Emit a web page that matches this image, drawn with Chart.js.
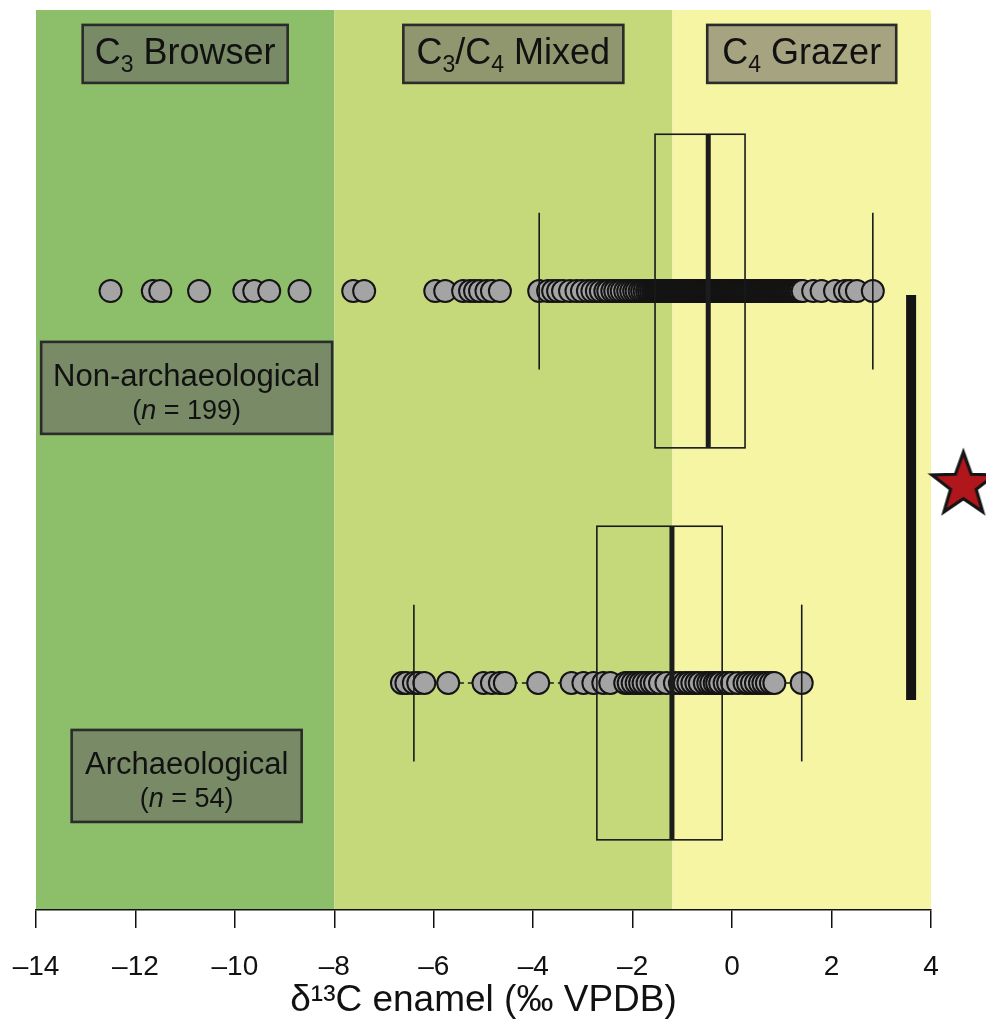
<!DOCTYPE html>
<html>
<head>
<meta charset="utf-8">
<script src="https://cdn.jsdelivr.net/npm/chart.js@4.4.1/dist/chart.umd.min.js"></script>
<style>
  html, body { margin: 0; padding: 0; background: #ffffff; }
  #wrap { width: 986px; height: 1019px; position: relative; }
</style>
</head>
<body>
<div id="wrap"><canvas id="chart" width="986" height="1019"></canvas></div>
<script>
// δ13C enamel values (‰ VPDB), one entry per specimen
const nonArchValues = [
  -12.50, -11.65, -11.50, -10.72, -9.81, -9.61, -9.31, -8.70, -7.62, -7.40,
  -5.97, -5.77, -5.41, -5.27, -5.17, -5.07, -4.94, -4.83, -4.67, -3.88,
  -3.70, -3.60, -3.50, -3.40, -3.26, -3.13,
  -3.02, -2.90, -2.81, -2.72, -2.64, -2.55, -2.49, -2.41, -2.35, -2.28,
  -2.22, -2.15, -2.09, -2.03, -1.97, -1.92, -1.86, -1.81, -1.76, -1.71,
  -1.67, -1.63, -1.59, -1.56,
  -1.53, -1.51, -1.49, -1.46, -1.44, -1.42, -1.40, -1.37, -1.35, -1.33,
  -1.31, -1.29, -1.27, -1.24, -1.22, -1.20, -1.18, -1.15, -1.13, -1.11,
  -1.09, -1.07, -1.04, -1.02, -1.00, -0.98, -0.95, -0.93, -0.91, -0.89,
  -0.86, -0.84, -0.82, -0.80, -0.77, -0.75, -0.73, -0.71, -0.68, -0.66,
  -0.64, -0.62, -0.60, -0.58, -0.56, -0.54, -0.52, -0.50, -0.49, -0.48,
  -0.47, -0.45, -0.44, -0.42, -0.41, -0.39, -0.38, -0.36, -0.35, -0.33,
  -0.32, -0.30, -0.29, -0.27, -0.26, -0.24, -0.23, -0.21, -0.20, -0.18,
  -0.17, -0.15, -0.14, -0.12, -0.11, -0.09, -0.08, -0.06, -0.05, -0.03,
  -0.02, 0.00, 0.01, 0.03, 0.04, 0.06, 0.07, 0.09, 0.10, 0.12,
  0.13, 0.15, 0.16, 0.18, 0.19, 0.21, 0.22, 0.24, 0.25, 0.27,
  0.29, 0.32, 0.34, 0.37, 0.40, 0.42, 0.45, 0.48, 0.50, 0.53,
  0.56, 0.58, 0.61, 0.64, 0.66, 0.69, 0.72, 0.74, 0.77, 0.80,
  0.82, 0.85, 0.88, 0.90, 0.93, 0.96, 0.98, 1.01, 1.04, 1.06,
  1.09, 1.12, 1.14, 1.17, 1.20, 1.23, 1.26, 1.29, 1.32, 1.35,
  1.38, 1.42, 1.63, 1.80, 2.07, 2.27, 2.37, 2.51, 2.83
];
const archValues = [
  -6.64, -6.55, -6.40, -6.31, -6.19, -5.71, -5.00, -4.83, -4.67, -4.57,
  -3.90, -3.23, -2.99, -2.79, -2.59, -2.45, -2.15, -2.08, -2.00, -1.92,
  -1.85, -1.78, -1.70, -1.62, -1.55, -1.45, -1.32, -1.15, -1.05, -0.95,
  -0.88, -0.80, -0.72, -0.65, -0.55, -0.48, -0.42, -0.35, -0.30, -0.24,
  -0.15, -0.08, 0.00, 0.12, 0.25, 0.32, 0.40, 0.48, 0.56, 0.63,
  0.70, 0.78, 0.85, 1.40
];

// Box-plot summaries: [lower whisker, Q1, median, Q3, upper whisker]
const nonArchBox = [-3.88, -1.55, -0.48, 0.26, 2.83];
const archBox = [-6.40, -2.72, -1.21, -0.20, 1.40];

// Group names, sample sizes and their row on the vertical axis
const groupNames = ['Non-archaeological', 'Archaeological'];
const groupCounts = [199, 54];
const groupRows = [2, 1];

// Dietary zones along the δ13C axis ("_d" marks a subscript digit)
const zoneNames = ['C_3 Browser', 'C_3/C_4 Mixed', 'C_4 Grazer'];
const zoneEdges = [-14, -8, -1.2, 4];

// Axis ticks
const xTickValues = [-14, -12, -10, -8, -6, -4, -2, 0, 2, 4];

// Reference range bar (x value, from row, to row) and the starred value
const rangeBarX = 3.6;
const rangeBarRows = [1.99, 0.957];
const starValue = [4.65, 1.513];

// ---- styling / layout ----
const FONT = "'Liberation Sans', Arial, Helvetica, sans-serif";
const zoneColors = ['#8dbe69', '#c5d97a', '#f6f5a4'];
const zoneLabelLayout = [
  { x: -11.0, w: 205 },
  { x: -4.4, w: 220 },
  { x: 1.4, w: 189 }
];
const zoneLabelRow = 2.605;
const groupLabelLayout = [
  { x: -10.97, row: 1.753, w: 291 },
  { x: -10.97, row: 0.763, w: 230 }
];
const labelFill = 'rgba(104,98,100,0.56)';
const labelStroke = '#2b2b2b';

function makeStar(outer, inner) {
  const size = Math.ceil(outer * 2 + 8);
  const c = document.createElement('canvas');
  c.width = size; c.height = size;
  const g = c.getContext('2d');
  const cx = size / 2, cy = size / 2 + (outer - outer * Math.cos(Math.PI / 5)) / 2;
  g.beginPath();
  for (let i = 0; i < 10; i++) {
    const r = i % 2 === 0 ? outer : inner;
    const a = -Math.PI / 2 + i * Math.PI / 5;
    const px = cx + r * Math.cos(a), py = cy + r * Math.sin(a);
    if (i === 0) g.moveTo(px, py); else g.lineTo(px, py);
  }
  g.closePath();
  g.fillStyle = '#b0171c';
  g.fill();
  g.lineJoin = 'miter';
  g.lineWidth = 3.2;
  g.strokeStyle = '#141414';
  g.stroke();
  return c;
}

function parseRuns(text) {
  const runs = [];
  let buf = '';
  for (let i = 0; i < text.length; i++) {
    if (text[i] === '_' && i + 1 < text.length) {
      if (buf) { runs.push({ t: buf, sub: false }); buf = ''; }
      runs.push({ t: text[i + 1], sub: true });
      i++;
    } else buf += text[i];
  }
  if (buf) runs.push({ t: buf, sub: false });
  return runs;
}

function drawRuns(ctx, runs, cx, cy, size) {
  const subSize = Math.round(size * 0.64);
  let total = 0;
  runs.forEach(r => {
    ctx.font = (r.sub ? subSize : size) + 'px ' + FONT;
    r.w = ctx.measureText(r.t).width;
    total += r.w;
  });
  let x = cx - total / 2;
  const base = cy + size * 0.36;
  ctx.textAlign = 'left';
  ctx.textBaseline = 'alphabetic';
  runs.forEach(r => {
    ctx.font = (r.sub ? subSize : size) + 'px ' + FONT;
    ctx.fillText(r.t, x, base + (r.sub ? size * 0.22 : 0));
    x += r.w;
  });
}

function labelBox(ctx, cx, cy, w, h) {
  ctx.fillStyle = labelFill;
  ctx.fillRect(cx - w / 2, cy - h / 2, w, h);
  ctx.lineWidth = 2.6;
  ctx.strokeStyle = labelStroke;
  ctx.strokeRect(cx - w / 2, cy - h / 2, w, h);
}

const boxStats = [nonArchBox, archBox];

const zonesAndBoxes = {
  id: 'zonesAndBoxes',
  beforeDraw(chart) {
    const { ctx, chartArea: a, scales: { x } } = chart;
    ctx.save();
    for (let i = 0; i < zoneColors.length; i++) {
      const x0 = x.getPixelForValue(zoneEdges[i]);
      const x1 = x.getPixelForValue(zoneEdges[i + 1]);
      ctx.fillStyle = zoneColors[i];
      ctx.fillRect(x0, a.top, x1 - x0, a.bottom - a.top);
    }
    ctx.restore();
  },
  beforeDatasetsDraw(chart) {
    const { ctx, scales: { x, y } } = chart;
    ctx.save();
    ctx.strokeStyle = '#1a1a1a';
    ctx.lineWidth = 1.5;
    ctx.setLineDash([5, 4]);
    boxStats.forEach((s, i) => {
      const py = y.getPixelForValue(groupRows[i]);
      ctx.beginPath();
      ctx.moveTo(x.getPixelForValue(s[0]), py);
      ctx.lineTo(x.getPixelForValue(s[1]), py);
      ctx.moveTo(x.getPixelForValue(s[3]), py);
      ctx.lineTo(x.getPixelForValue(s[4]), py);
      ctx.stroke();
    });
    ctx.restore();
  },
  afterDatasetsDraw(chart) {
    const { ctx, scales: { x, y } } = chart;
    ctx.save();
    boxStats.forEach((s, i) => {
      const r = groupRows[i];
      const top = y.getPixelForValue(r + 0.4), bot = y.getPixelForValue(r - 0.4);
      const sTop = y.getPixelForValue(r + 0.2), sBot = y.getPixelForValue(r - 0.2);
      ctx.strokeStyle = '#1a1a1a';
      ctx.lineWidth = 1.6;
      // staples at whisker ends
      [s[0], s[4]].forEach(v => {
        const px = x.getPixelForValue(v);
        ctx.beginPath(); ctx.moveTo(px, sTop); ctx.lineTo(px, sBot); ctx.stroke();
      });
      // box
      const q1 = x.getPixelForValue(s[1]), q3 = x.getPixelForValue(s[3]);
      ctx.strokeRect(q1, top, q3 - q1, bot - top);
      // median
      const m = x.getPixelForValue(s[2]);
      ctx.lineWidth = 5;
      ctx.strokeStyle = '#1c1c1c';
      ctx.beginPath(); ctx.moveTo(m, top); ctx.lineTo(m, bot); ctx.stroke();
    });

    // zone labels
    zoneNames.forEach((name, i) => {
      const L = zoneLabelLayout[i];
      const cx = x.getPixelForValue(L.x), cy = y.getPixelForValue(zoneLabelRow);
      labelBox(ctx, cx, cy, L.w, 58);
      ctx.fillStyle = '#111';
      drawRuns(ctx, parseRuns(name), cx, cy - 3, 36);
    });

    // group labels
    groupNames.forEach((name, i) => {
      const L = groupLabelLayout[i];
      const cx = x.getPixelForValue(L.x), cy = y.getPixelForValue(L.row);
      labelBox(ctx, cx, cy, L.w, 92);
      ctx.fillStyle = '#111';
      ctx.textAlign = 'center';
      ctx.textBaseline = 'alphabetic';
      ctx.font = '31px ' + FONT;
      ctx.fillText(name, cx, cy - 2);
      // second line: (n = N) with italic n
      const partA = '(', partN = 'n', partB = ' = ' + groupCounts[i] + ')';
      ctx.font = '27px ' + FONT;
      const wA = ctx.measureText(partA).width, wB = ctx.measureText(partB).width;
      ctx.font = 'italic 27px ' + FONT;
      const wN = ctx.measureText(partN).width;
      let sx = cx - (wA + wN + wB) / 2;
      const by = cy + 31;
      ctx.textAlign = 'left';
      ctx.font = '27px ' + FONT; ctx.fillText(partA, sx, by); sx += wA;
      ctx.font = 'italic 27px ' + FONT; ctx.fillText(partN, sx, by); sx += wN;
      ctx.font = '27px ' + FONT; ctx.fillText(partB, sx, by);
    });
    ctx.restore();
  }
};

const pointStyleOpts = {
  pointRadius: 11,
  pointBorderWidth: 2,
  pointBackgroundColor: '#a4a4a4',
  pointBorderColor: '#141414',
  showLine: false
};

new Chart(document.getElementById('chart'), {
  type: 'scatter',
  data: {
    datasets: [
      Object.assign({
        label: groupNames[0],
        data: nonArchValues.map(v => ({ x: v, y: groupRows[0] }))
      }, pointStyleOpts),
      Object.assign({
        label: groupNames[1],
        data: archValues.map(v => ({ x: v, y: groupRows[1] }))
      }, pointStyleOpts),
      {
        type: 'line',
        label: 'range',
        data: rangeBarRows.map(r => ({ x: rangeBarX, y: r })),
        borderColor: '#141414',
        borderWidth: 10,
        borderCapStyle: 'butt',
        pointRadius: 0,
        showLine: true,
        fill: false
      },
      {
        label: 'star',
        data: [{ x: starValue[0], y: starValue[1] }],
        pointStyle: makeStar(33, 13.5),
        pointRadius: 34,
        clip: false
      }
    ]
  },
  options: {
    responsive: false,
    animation: false,
    events: [],
    layout: { autoPadding: false, padding: { left: 36, right: 55, top: 10, bottom: 0 } },
    plugins: { legend: { display: false }, tooltip: { enabled: false } },
    scales: {
      x: {
        type: 'linear',
        min: -14,
        max: 4,
        afterBuildTicks: axis => { axis.ticks = xTickValues.map(v => ({ value: v })); },
        afterFit: axis => { axis.paddingLeft = 0; axis.paddingRight = 0; axis.height = 109; },
        ticks: {
          autoSkip: false,
          maxRotation: 0,
          padding: 25,
          color: '#111',
          font: { family: FONT, size: 28, lineHeight: 1.0 },
          callback: v => (v < 0 ? '\u2013' + Math.abs(v) : String(v))
        },
        grid: { drawOnChartArea: false, drawTicks: true, tickLength: 18, color: '#111', lineWidth: 1.5 },
        border: { display: true, color: '#111', width: 1.5 },
        title: {
          display: true,
          text: 'δ¹³C enamel (‰ VPDB)',
          color: '#111',
          font: { family: FONT, size: 37, lineHeight: 1.0 },
          padding: { top: 2, bottom: 0 }
        }
      },
      y: { type: 'linear', min: 0.421, max: 2.717, display: false }
    }
  },
  plugins: [zonesAndBoxes]
});
</script>
</body>
</html>
